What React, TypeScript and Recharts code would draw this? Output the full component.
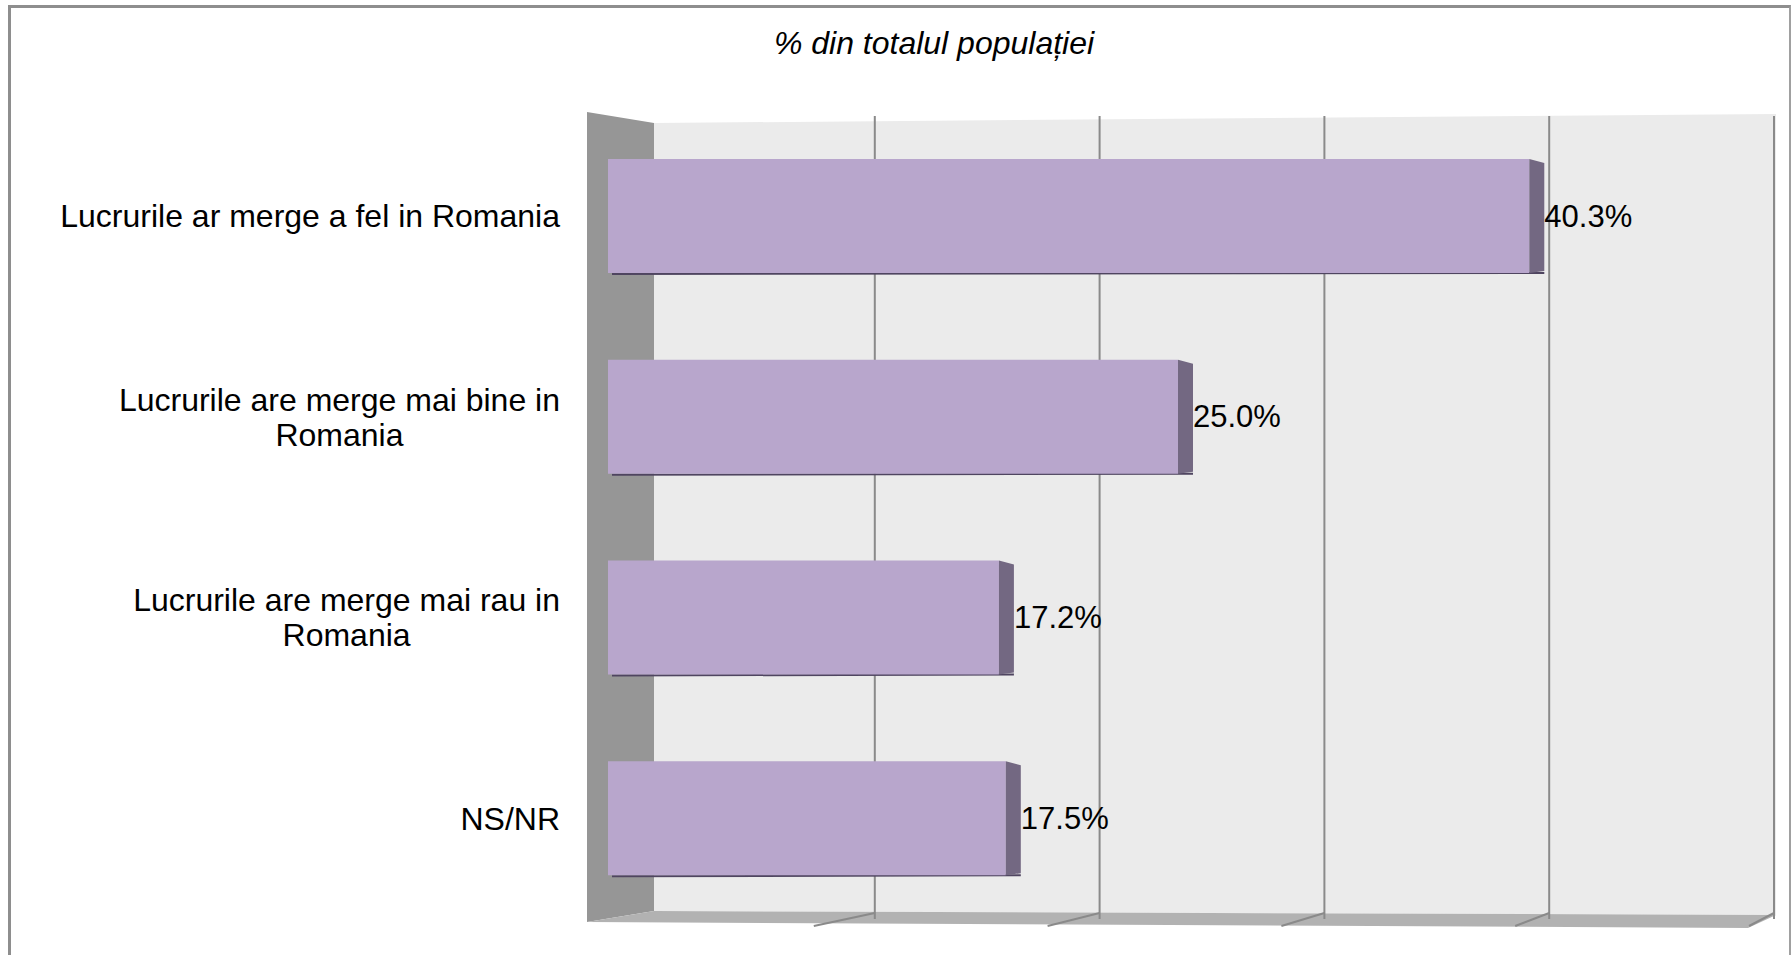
import { BarChart, Bar, XAxis, YAxis, CartesianGrid, LabelList } from 'recharts'

const TITLE = '% din totalul populației'
const CATEGORIES = [
  'Lucrurile ar merge a fel in Romania',
  'Lucrurile are merge mai bine in Romania',
  'Lucrurile are merge mai rau in Romania',
  'NS/NR',
]
const VALUES = [40.3, 25.0, 17.2, 17.5]
const GRID_TICKS = [10, 20, 30, 40, 50]
const X_MAX = 50

const FONT = '"Liberation Sans", Arial, sans-serif'
const LABEL_SIZE = 32
const VALUE_SIZE = 31
const BAR_FRONT = '#b8a6cc'
const BAR_SIDE = '#736882'

const data = CATEGORIES.map((name, i) => ({ name, value: VALUES[i] }))

// back plane of the fake 3D box: starts at 650 and is a bit narrower than the bar plane
const BACK_LEFT = 650
const BACK_UNIT = 22.48
const FRONT_UNIT = 22.96

let ctx: CanvasRenderingContext2D | null = null
function measure(s: string) {
  if (!ctx) {
    ctx = document.createElement('canvas').getContext('2d')
    if (ctx) ctx.font = `${LABEL_SIZE}px ${FONT}`
  }
  return ctx ? ctx.measureText(s).width : s.length * LABEL_SIZE * 0.5
}

function wrap(text: string, maxW: number) {
  const words = text.split(' ')
  const lines: string[] = []
  let cur = ''
  for (const w of words) {
    const next = cur ? cur + ' ' + w : w
    if (measure(next) > maxW && cur) {
      lines.push(cur)
      cur = w
    } else cur = next
  }
  if (cur) lines.push(cur)
  return lines
}

function CategoryTick({ x, y, payload }: any) {
  const lines = wrap(String(payload.value), 505)
  const widest = Math.max(...lines.map(measure))
  const cx = x - widest / 2
  const lh = 35
  const top = y - ((lines.length - 1) * lh) / 2
  return (
    <g>
      {lines.map((l, i) => (
        <text
          key={i}
          x={cx}
          y={top + i * lh}
          textAnchor="middle"
          dominantBaseline="central"
          fontSize={LABEL_SIZE}
          fontFamily={FONT}
          fill="#000"
        >
          {l}
        </text>
      ))}
    </g>
  )
}

function Bar3D({ x, y, width, height }: any) {
  const d = 15
  return (
    <g>
      <line x1={x + 8} y1={y + height + 1} x2={x + width + d} y2={y + height} stroke="#4f4560" strokeWidth={2} />
      <rect x={x + 4} y={y} width={width - 4} height={height} fill={BAR_FRONT} />
      <polygon
        points={`${x + width},${y} ${x + width + d},${y + 4} ${x + width + d},${y + height - 2} ${x + width},${y + height}`}
        fill={BAR_SIDE}
      />
    </g>
  )
}

function ValueLabel({ x, y, width, height, value }: any) {
  return (
    <text
      x={x + width + 15}
      y={y + height / 2}
      dominantBaseline="central"
      fontSize={VALUE_SIZE}
      fontFamily={FONT}
      fill="#000"
    >
      {Number(value).toFixed(1)}%
    </text>
  )
}

export default function App() {
  const backX = (v: number) => BACK_LEFT + v * BACK_UNIT
  const floorFrontX = (v: number) => 580 + v * 23.38
  return (
    <div style={{ position: 'absolute', left: 0, top: 0, width: 1792, height: 955, overflow: 'hidden', background: '#fff' }}>
      <div
        style={{
          position: 'absolute',
          left: 8,
          top: 5,
          width: 1778,
          height: 980,
          borderLeft: '3px solid #8e8e8e',
          borderTop: '3px solid #8e8e8e',
          borderRight: '2px solid #a0a0a0',
        }}
      />
      <div
        style={{
          position: 'absolute',
          left: 0,
          top: 26,
          width: 1868,
          textAlign: 'center',
          fontFamily: FONT,
          fontStyle: 'italic',
          fontSize: LABEL_SIZE,
          lineHeight: '34px',
        }}
      >
        {TITLE}
      </div>

      {/* 3D frame: back plane, left wall, floor */}
      <svg width={1792} height={955} style={{ position: 'absolute', left: 0, top: 0 }}>
        <polygon points="654,123 1776,114 1776,915 654,911" fill="#ebebeb" />
        <polygon points="587,112 654,123 654,911 587,922" fill="#969696" />
        <polygon points="587,922 654,911 1776,915 1748,928" fill="#b2b2b2" />
        {GRID_TICKS.map((t) => (
          <line key={t} x1={backX(t)} y1={913} x2={floorFrontX(t)} y2={926} stroke="#8a8a8a" strokeWidth={2} />
        ))}
      </svg>

      <div style={{ position: 'absolute', left: 0, top: 0 }}>
        <BarChart
          width={1792}
          height={955}
          layout="vertical"
          data={data}
          margin={{ top: 116, right: 40, bottom: 36, left: 44 }}
        >
          <CartesianGrid
            horizontal={false}
            stroke="#8a8a8a"
            strokeWidth={2}
            verticalCoordinatesGenerator={({ offset }: any) =>
              GRID_TICKS.map((t) => {
                const left = offset?.left ?? 604
                const w = offset?.width ?? 1148
                const fx = left + (t / X_MAX) * w
                return BACK_LEFT + (fx - left) * (BACK_UNIT / FRONT_UNIT)
              })
            }
          />
          <XAxis type="number" domain={[0, X_MAX]} ticks={[0, 10, 20, 30, 40, 50]} hide />
          <YAxis
            type="category"
            dataKey="name"
            width={560}
            tickLine={false}
            axisLine={false}
            tickSize={0}
            tickMargin={44}
            tick={<CategoryTick />}
            interval={0}
          />
          <Bar dataKey="value" barSize={114} shape={<Bar3D />} isAnimationActive={false}>
            <LabelList dataKey="value" content={<ValueLabel />} />
          </Bar>
        </BarChart>
      </div>
    </div>
  )
}
